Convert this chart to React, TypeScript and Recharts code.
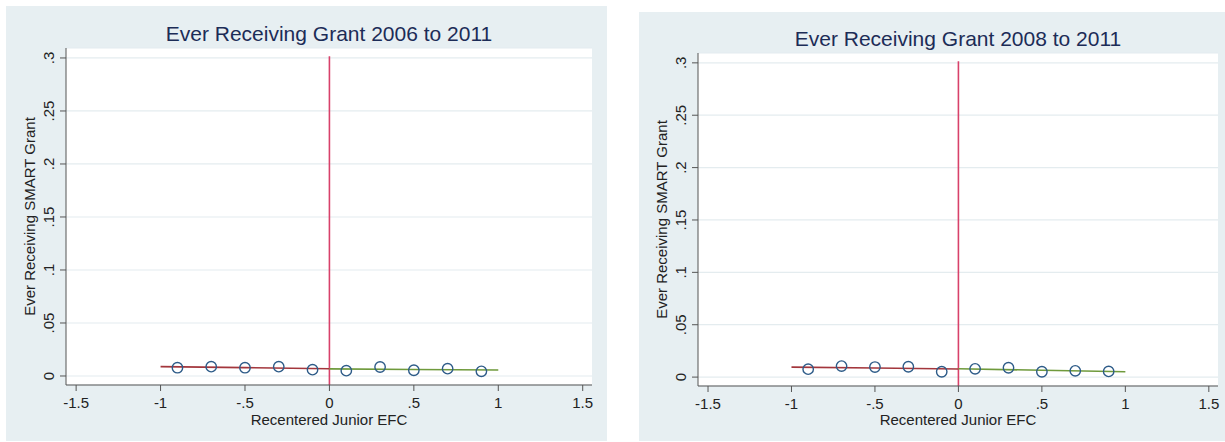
import React from 'react';
import {
  ComposedChart, Scatter, Line, XAxis, YAxis,
  CartesianGrid, ReferenceLine,
} from 'recharts';

// bin midpoints of recentered junior EFC
const binX = [-0.9, -0.7, -0.5, -0.3, -0.1, 0.1, 0.3, 0.5, 0.7, 0.9];

// share ever receiving a SMART grant, per bin
const means0611 = [0.0078, 0.0088, 0.0078, 0.0088, 0.0060, 0.0050, 0.0085, 0.0054, 0.0069, 0.0044];
const means0811 = [0.0076, 0.0105, 0.0096, 0.0099, 0.0051, 0.0079, 0.0089, 0.0051, 0.0060, 0.0054];

// fitted lines on each side of the cutoff
const fitXBelow = [-1, -0.5, 0];
const fitXAbove = [0, 0.5, 1];
const fitBelow0611 = [0.0088, 0.0079, 0.0068];
const fitAbove0611 = [0.0067, 0.0061, 0.0056];
const fitBelow0811 = [0.0095, 0.0087, 0.0078];
const fitAbove0811 = [0.0080, 0.0065, 0.0051];

const xTicks = [-1.5, -1, -0.5, 0, 0.5, 1, 1.5];
const yTicks = [0, 0.05, 0.1, 0.15, 0.2, 0.25, 0.3];

const X_DOMAIN: [number, number] = [-1.56, 1.555];
const Y_DOMAIN: [number, number] = [-0.0085, 0.3094];

const BG = '#e7eff2';
const GRID = '#e4ecef';
const AXIS = '#555';
const FONT = '"Liberation Sans", Arial, sans-serif';

const stataNum = (v: number) => (v === 0 ? '0' : String(v).replace('0.', '.'));
const zip = (xs: number[], ys: number[]) => xs.map((x, i) => ({ x, y: ys[i] }));

interface PanelProps {
  left: number;
  top: number;
  width: number;
  height: number;
  plot: { left: number; right: number; top: number; bottom: number };
  title: string;
  means: number[];
  fitBelow: number[];
  fitAbove: number[];
}

function Panel({ left, top, width, height, plot, title, means, fitBelow, fitAbove }: PanelProps) {
  const pl = plot.left - left;
  const pr = plot.right - left;
  const pt = plot.top - top;
  const pb = plot.bottom - top;
  const cx = (pl + pr) / 2;
  const cy = (pt + pb) / 2;

  const points = zip(binX, means);
  const below = zip(fitXBelow, fitBelow);
  const above = zip(fitXAbove, fitAbove);

  const XTick = (p: any) => (
    <text x={p.x} y={pb + 23} textAnchor="middle" fontSize={15} fontFamily={FONT} fill="#222">
      {stataNum(p.payload.value)}
    </text>
  );
  const YTick = (p: any) => {
    const tx = pl - 11.5;
    return (
      <text x={tx} y={p.y} transform={`rotate(-90, ${tx}, ${p.y})`} textAnchor="middle"
        fontSize={15} fontFamily={FONT} fill="#222">
        {stataNum(p.payload.value)}
      </text>
    );
  };

  return (
    <div style={{ position: 'absolute', left, top, width, height, background: BG }}>
      <ComposedChart width={width} height={height}
        margin={{ top: pt, right: width - pr, bottom: 0, left: 0 }}>
        <CartesianGrid vertical={false} fill="#fff" stroke={GRID} strokeWidth={1.2} />
        <XAxis dataKey="x" type="number" domain={X_DOMAIN} ticks={xTicks} allowDataOverflow
          height={height - pb} stroke={AXIS} tickSize={6} tick={XTick} interval={0} />
        <YAxis dataKey="y" type="number" domain={Y_DOMAIN} ticks={yTicks} allowDataOverflow
          width={pl} stroke={AXIS} tickSize={6} tick={YTick} interval={0} />
        <ReferenceLine segment={[{ x: 0, y: Y_DOMAIN[0] }, { x: 0, y: 0.3015 }]}
          stroke="#d8416a" strokeWidth={1.6} />
        <Line data={below} dataKey="y" stroke="#a3363c" strokeWidth={1.6} dot={false}
          isAnimationActive={false} />
        <Line data={above} dataKey="y" stroke="#6f9a3c" strokeWidth={1.6} dot={false}
          isAnimationActive={false} />
        <Scatter data={points} dataKey="y" isAnimationActive={false}
          shape={(s: any) => (
            <circle cx={s.cx} cy={s.cy} r={5.2} fill="none" stroke="#2d5b88" strokeWidth={1.4} />
          )} />
      </ComposedChart>
      <svg width={width} height={height}
        style={{ position: 'absolute', left: 0, top: 0, pointerEvents: 'none' }}>
        <text x={cx} y={pt - 7} textAnchor="middle" fontSize={21} fontFamily={FONT} fill="#1c2c57">
          {title}
        </text>
        <text x={cx} y={425 - top} textAnchor="middle" fontSize={15} fontFamily={FONT} fill="#222">
          Recentered Junior EFC
        </text>
        <text x={pl - 31} y={cy} transform={`rotate(-90, ${pl - 31}, ${cy})`} textAnchor="middle"
          fontSize={15} fontFamily={FONT} fill="#222">
          Ever Receiving SMART Grant
        </text>
      </svg>
    </div>
  );
}

export default function App() {
  return (
    <div style={{
      position: 'absolute', left: 0, top: 0, width: 1225, height: 442,
      overflow: 'hidden', background: '#fff',
    }}>
      <Panel left={6} top={6} width={601} height={435}
        plot={{ left: 66, right: 592, top: 48, bottom: 385 }}
        title="Ever Receiving Grant 2006 to 2011"
        means={means0611} fitBelow={fitBelow0611} fitAbove={fitAbove0611} />
      <Panel left={639} top={12} width={601} height={429}
        plot={{ left: 698, right: 1218, top: 53, bottom: 386 }}
        title="Ever Receiving Grant 2008 to 2011"
        means={means0811} fitBelow={fitBelow0811} fitAbove={fitAbove0811} />
    </div>
  );
}
